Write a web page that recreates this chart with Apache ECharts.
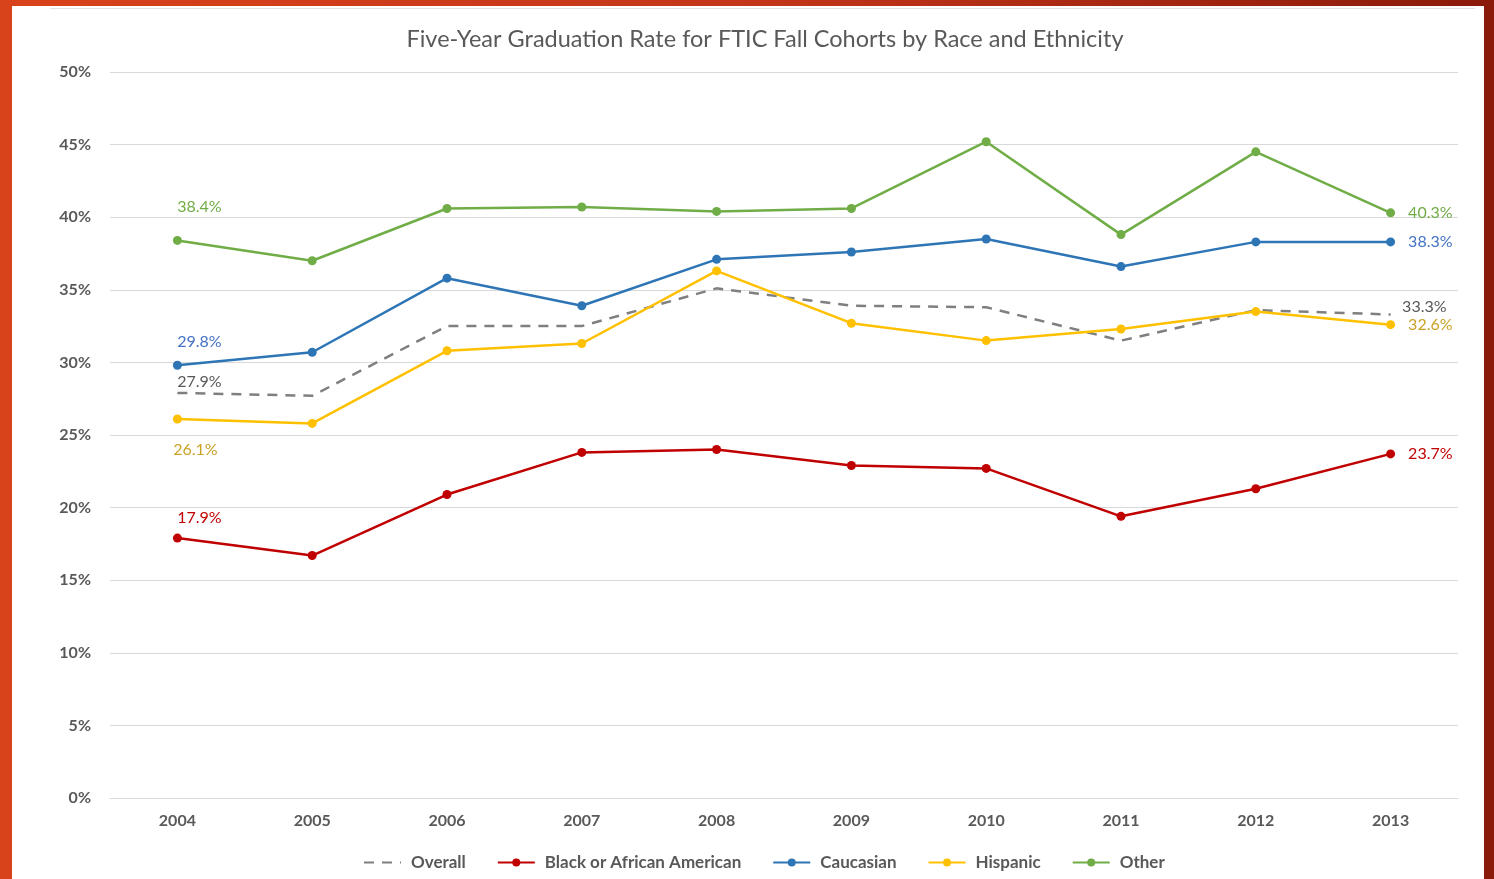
<!DOCTYPE html>
<html>
<head>
<meta charset="utf-8">
<script src="https://cdn.jsdelivr.net/npm/echarts@6/dist/echarts.min.js"></script>
<style>
  html, body { margin: 0; padding: 0; width: 1494px; height: 879px; overflow: hidden; }
  body { background: linear-gradient(to right, #d8431b 0%, #c4361a 50%, #8a1a0a 100%); position: relative; }
  #panel { position: absolute; left: 12px; top: 6px; width: 1472px; height: 873px; background: #ffffff; }
  #chart { position: absolute; left: 0; top: 0; width: 1494px; height: 879px; }
</style>
</head>
<body>
<div id="panel"></div>
<div id="chart"></div>
<script>
const years = ['2004','2005','2006','2007','2008','2009','2010','2011','2012','2013'];
const overall  = [27.9, 27.7, 32.5, 32.5, 35.1, 33.9, 33.8, 31.5, 33.6, 33.3];
const black    = [17.9, 16.7, 20.9, 23.8, 24.0, 22.9, 22.7, 19.4, 21.3, 23.7];
const caucasian= [29.8, 30.7, 35.8, 33.9, 37.1, 37.6, 38.5, 36.6, 38.3, 38.3];
const hispanic = [26.1, 25.8, 30.8, 31.3, 36.3, 32.7, 31.5, 32.3, 33.5, 32.6];
const other    = [38.4, 37.0, 40.6, 40.7, 40.4, 40.6, 45.2, 38.8, 44.5, 40.3];

const FONT = 'Lato, "Open Sans", sans-serif';

function lbl(color, pos, offset) {
  return { show: true, position: pos, offset: offset, color: color, fontSize: 16, fontFamily: FONT,
           formatter: function (p) { return Number(p.value).toFixed(1) + '%'; } };
}
function withLabels(values, labelColor, firstPos, firstOffset, lastOffset) {
  return values.map(function (v, i) {
    if (i === 0) return { value: v, label: lbl(labelColor, firstPos, firstOffset) };
    if (i === values.length - 1) return { value: v, label: lbl(labelColor, 'right', lastOffset) };
    return v;
  });
}

const chart = echarts.init(document.getElementById('chart'), null, { renderer: 'canvas' });
chart.setOption({
  backgroundColor: 'transparent',
  animation: false,
  title: {
    text: 'Five-Year Graduation Rate for FTIC Fall Cohorts by Race and Ethnicity',
    left: 760, top: 22, textAlign: 'center',
    textStyle: { fontFamily: FONT, fontSize: 23.5, fontWeight: 'normal', color: '#595959' }
  },
  graphic: [{
    type: 'line', shape: { x1: 50, y1: 8.5, x2: 1475, y2: 8.5 },
    style: { stroke: '#e3e3e3', lineWidth: 1 }
  }],
  legend: {
    left: 358, top: 849,
    itemWidth: 37, itemHeight: 10, itemGap: 31,
    textStyle: { fontFamily: FONT, fontSize: 17, fontWeight: 'bold', color: '#595959', padding: [0, 0, 0, 5] },
    data: [
      { name: 'Overall', itemStyle: { color: 'rgba(0,0,0,0)', borderWidth: 0 } },
      'Black or African American', 'Caucasian', 'Hispanic', 'Other'
    ]
  },
  grid: { left: 110, right: 36, top: 72, bottom: 81, containLabel: false },
  xAxis: {
    type: 'category', data: years, boundaryGap: true,
    axisLine: { show: true, lineStyle: { color: '#d9d9d9', width: 1 } },
    axisTick: { show: false },
    axisLabel: { color: '#595959', fontFamily: FONT, fontSize: 16, fontWeight: 'bold', margin: 15 }
  },
  yAxis: {
    type: 'value', min: 0, max: 50, interval: 5,
    axisLine: { show: false }, axisTick: { show: false },
    splitLine: { lineStyle: { color: '#d9d9d9', width: 1 } },
    axisLabel: { formatter: '{value}%', color: '#595959', fontFamily: FONT, fontSize: 16, fontWeight: 'bold', margin: 19 }
  },
  series: [
    { name: 'Overall', type: 'line', symbol: 'none',
      data: overall,
      lineStyle: { color: '#7f7f7f', width: 2.5, type: [10, 8] }, itemStyle: { color: '#7f7f7f' }, z: 2 },
    { name: 'Overall labels', type: 'line', symbol: 'circle', symbolSize: 1, showSymbol: true, silent: true,
      data: withLabels(overall, '#595959', 'top', [22, 2], [6, -8]),
      lineStyle: { width: 0, opacity: 0 }, itemStyle: { color: 'rgba(0,0,0,0)' }, z: 1 },
    { name: 'Black or African American', type: 'line', symbol: 'circle', symbolSize: 9,
      data: withLabels(black, '#c00000', 'top', [22, -3], [8, 0]),
      lineStyle: { color: '#c00000', width: 2.5 }, itemStyle: { color: '#c00000' } },
    { name: 'Caucasian', type: 'line', symbol: 'circle', symbolSize: 9,
      data: withLabels(caucasian, '#4472c4', 'top', [22, -6], [8, 0]),
      lineStyle: { color: '#2e75b6', width: 2.5 }, itemStyle: { color: '#2e75b6' } },
    { name: 'Hispanic', type: 'line', symbol: 'circle', symbolSize: 9,
      data: withLabels(hispanic, '#c9a227', 'bottom', [18, 13], [8, 0]),
      lineStyle: { color: '#ffc000', width: 2.5 }, itemStyle: { color: '#ffc000' } },
    { name: 'Other', type: 'line', symbol: 'circle', symbolSize: 9,
      data: withLabels(other, '#70ad47', 'top', [22, -16], [8, 0]),
      lineStyle: { color: '#70ad47', width: 2.5 }, itemStyle: { color: '#70ad47' } }
  ]
});
</script>
</body>
</html>
